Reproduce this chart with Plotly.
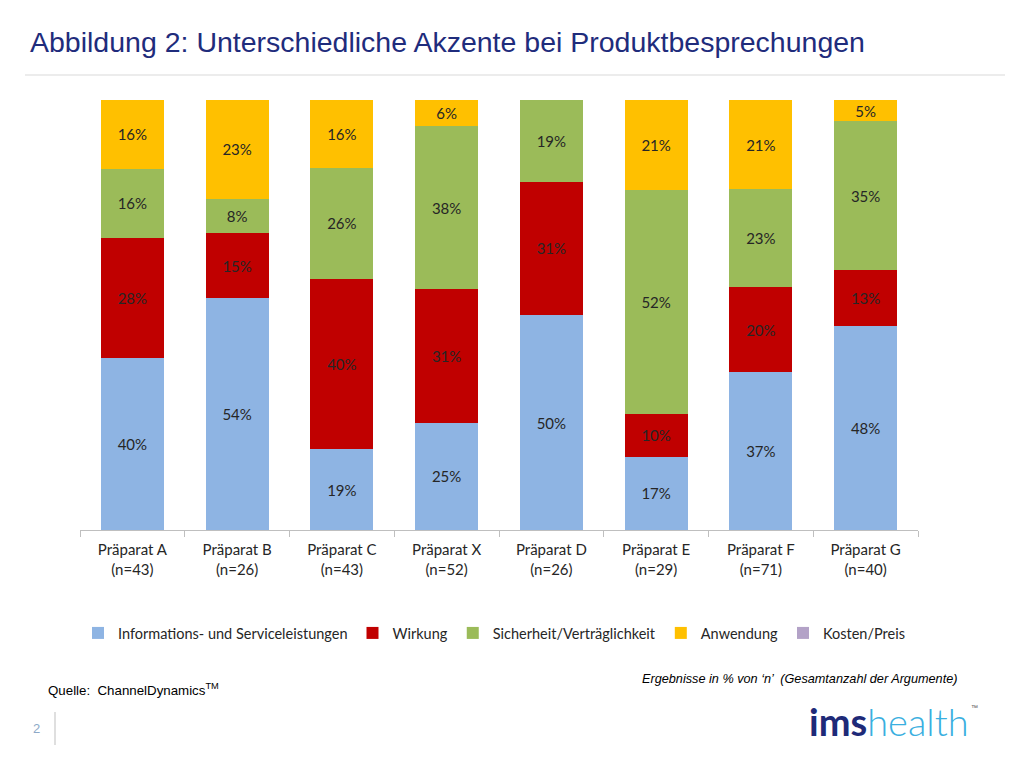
import plotly.graph_objects as go

# data (percent)
praeparate = ['Präparat A<br>(n=43)', 'Präparat B<br>(n=26)', 'Präparat C<br>(n=43)',
              'Präparat X<br>(n=52)', 'Präparat D<br>(n=26)', 'Präparat E<br>(n=29)',
              'Präparat F<br>(n=71)', 'Präparat G<br>(n=40)']
info_service = [40, 54, 19, 25, 50, 17, 37, 48]
wirkung = [28, 15, 40, 31, 31, 10, 20, 13]
sicherheit = [16, 8, 26, 38, 19, 52, 23, 35]
anwendung = [16, 23, 16, 6, 0, 21, 21, 5]
kosten = [0, 0, 0, 0, 0, 0, 0, 0]

series = [
    ('Informations- und Serviceleistungen', info_service, '#8EB4E3'),
    ('Wirkung', wirkung, '#C00000'),
    ('Sicherheit/Verträglichkeit', sicherheit, '#9BBB59'),
    ('Anwendung', anwendung, '#FFC000'),
    ('Kosten/Preis', kosten, '#B3A2C7'),
]


# screen pixel -> paper coords (plot area sits at x 80..918, y 100..530 on screen)
def px(sx):
    return (sx - 80) / 838


def py(sy):
    return (530 - sy) / 430


fig = go.Figure()
for name, vals, col in series:
    labels = [f'{v}%' if v > 0 else None for v in vals]
    fig.add_trace(go.Bar(
        x=praeparate, y=vals, name=name, marker_color=col,
        marker_line_width=0,
        text=labels if any(vals) else None,
        textposition='inside', insidetextanchor='middle', constraintext='none',
        cliponaxis=False,
        textangle=0, textfont=dict(family='Lato', size=15, color='#262626'),
        hoverinfo='skip'))

fig.update_layout(
    barmode='stack', barnorm='percent', bargap=0.4,
    width=1024, height=768,
    paper_bgcolor='white', plot_bgcolor='white',
    margin=dict(l=72, r=114, t=92, b=246),
    font=dict(family='Lato', color='#262626'),
    legend=dict(orientation='h', x=px(78), xanchor='left', y=py(633), yanchor='middle',
                font=dict(family='Lato', size=14.5, color='#262626'),
                traceorder='normal', itemwidth=30, tracegroupgap=0),
)
fig.update_xaxes(showline=True, linecolor='#BFBFBF', linewidth=1,
                 ticks='outside', tickson='boundaries', ticklen=6, tickcolor='#BFBFBF',
                 ticklabelstandoff=6,
                 tickfont=dict(family='Lato', size=15, color='#262626'))
fig.update_yaxes(range=[0, 100], visible=False, showgrid=False)

# title
fig.add_annotation(text='Abbildung 2: Unterschiedliche Akzente bei Produktbesprechungen',
                   xref='paper', yref='paper', x=px(28), y=py(42),
                   xanchor='left', yanchor='middle', showarrow=False,
                   font=dict(family='Liberation Sans, Arial', size=28.5, color='#1F2C7C'))
# thin line under title
fig.add_shape(type='line', xref='paper', yref='paper',
              x0=px(25), x1=px(1005), y0=py(75), y1=py(75),
              line=dict(color='#D9D9D9', width=1))
# page number separator
fig.add_shape(type='line', xref='paper', yref='paper',
              x0=px(55), x1=px(55), y0=py(712), y1=py(745),
              line=dict(color='#BFBFBF', width=1))

fig.add_annotation(text='2', xref='paper', yref='paper', x=px(36), y=py(728),
                   xanchor='center', yanchor='middle', showarrow=False,
                   font=dict(family='Liberation Sans', size=13, color='#8EA9C8'))
fig.add_annotation(text='Quelle:  ChannelDynamics<sup>TM</sup>', xref='paper', yref='paper',
                   x=px(46), y=py(689), xanchor='left', yanchor='middle', showarrow=False,
                   font=dict(family='Liberation Sans', size=13.3, color='#000000'))
fig.add_annotation(text='<i>Ergebnisse in % von ‘n’  (Gesamtanzahl der Argumente)</i>',
                   xref='paper', yref='paper', x=px(959), y=py(679),
                   xanchor='right', yanchor='middle', showarrow=False,
                   font=dict(family='Liberation Sans', size=12.7, color='#000000'))
fig.add_annotation(text="<b>ims</b><span style='color:#3AAFE0;font-weight:300'>health</span>",
                   xref='paper', yref='paper', x=px(971), y=py(721),
                   xanchor='right', yanchor='middle', showarrow=False,
                   font=dict(family='Lato', size=38, color='#1E2A78'))
fig.add_annotation(text='™', xref='paper', yref='paper', x=px(974), y=py(707),
                   xanchor='center', yanchor='middle', showarrow=False,
                   font=dict(family='Liberation Sans', size=7, color='#555555'))

fig.write_html('out.html')
